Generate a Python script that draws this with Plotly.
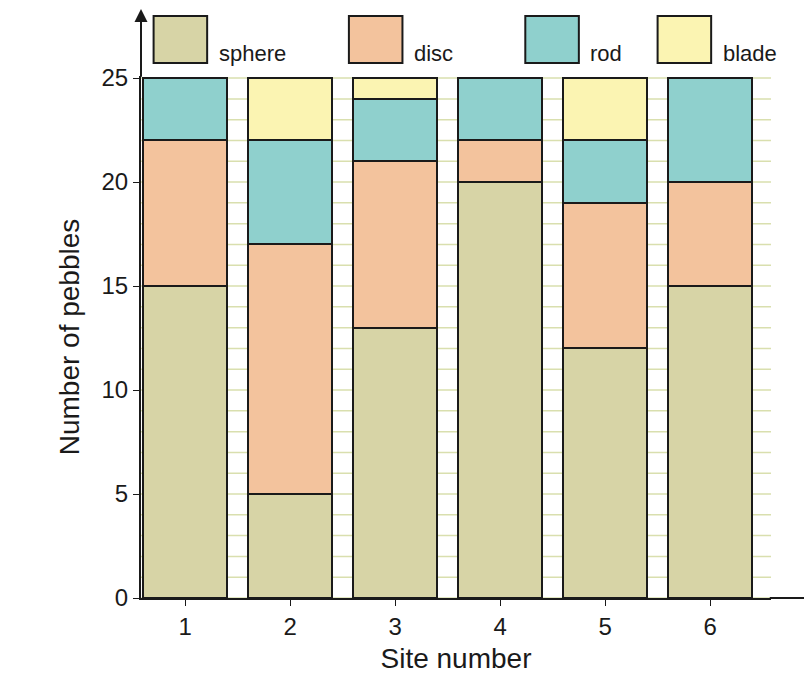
import plotly.graph_objects as go

sites = [1, 2, 3, 4, 5, 6]
sphere = [15, 5, 13, 20, 12, 15]
disc = [7, 12, 8, 2, 7, 5]
rod = [3, 5, 3, 3, 3, 5]
blade = [0, 3, 1, 0, 3, 0]

names = ['sphere', 'disc', 'rod', 'blade']
series = [sphere, disc, rod, blade]
colors = ['#d7d4a6', '#f3c39d', '#8fd0cd', '#fbf4b2']

fig = go.Figure()
for name, vals, col in zip(names, series, colors):
    fig.add_trace(go.Bar(x=sites, y=vals, name=name, marker_color=col,
                         marker_line=dict(color='#1a1a1a', width=2),
                         width=0.8, showlegend=False))

# legend drawn as boxes along the top
leg_x = [0.02, 0.33, 0.61, 0.82]
for name, col, lx in zip(names, colors, leg_x):
    fig.add_shape(type='rect', xref='paper', yref='paper',
                  x0=lx, x1=lx + 0.085, y0=1.025, y1=1.115,
                  fillcolor=col, line=dict(color='#1a1a1a', width=2))
    fig.add_annotation(xref='paper', yref='paper', x=lx + 0.1, y=1.07,
                       text=name, showarrow=False, xanchor='left',
                       font=dict(size=22, color='#1a1a1a'))

# axis arrows
fig.add_annotation(xref='paper', yref='paper', x=0, y=1.13, ax=0, ay=70,
                   showarrow=True, arrowhead=2, arrowsize=1.3, arrowwidth=2,
                   arrowcolor='#1a1a1a', text='')
fig.add_annotation(xref='paper', yref='paper', x=1.075, y=0, ax=-50, ay=0,
                   showarrow=True, arrowhead=2, arrowsize=1.3, arrowwidth=2,
                   arrowcolor='#1a1a1a', text='')

fig.update_layout(
    barmode='stack', bargap=0.2,
    width=812, height=700,
    margin=dict(l=133, r=49, t=68, b=110),
    paper_bgcolor='white', plot_bgcolor='white',
    font=dict(family='Liberation Sans, Arial', size=24, color='#1a1a1a'),
    xaxis=dict(range=[0.58, 6.58], tickvals=sites, showgrid=False,
               title=dict(text='Site number', font=dict(size=28), standoff=10),
               showline=True, linecolor='#1a1a1a', linewidth=2,
               ticks='outside', ticklen=6, tickcolor='#1a1a1a', zeroline=False),
    yaxis=dict(range=[0, 25.1], tickvals=[0, 5, 10, 15, 20, 25],
               showgrid=False,
               title=dict(text='Number of pebbles', font=dict(size=28), standoff=14),
               showline=True, linecolor='#1a1a1a', linewidth=2,
               ticks='outside', ticklen=6, tickcolor='#1a1a1a', zeroline=False),
)

# light grid behind the bars
for i in range(31):
    xv = 0.6 + 0.2 * i
    fig.add_shape(type='line', x0=xv, x1=xv, y0=0, y1=25, layer='below',
                  line=dict(color='#d9dfae', width=1.5))
for j in range(26):
    fig.add_shape(type='line', x0=0.58, x1=6.58, y0=j, y1=j, layer='below',
                  line=dict(color='#d9dfae', width=1.5))

fig.write_html("out.html")
